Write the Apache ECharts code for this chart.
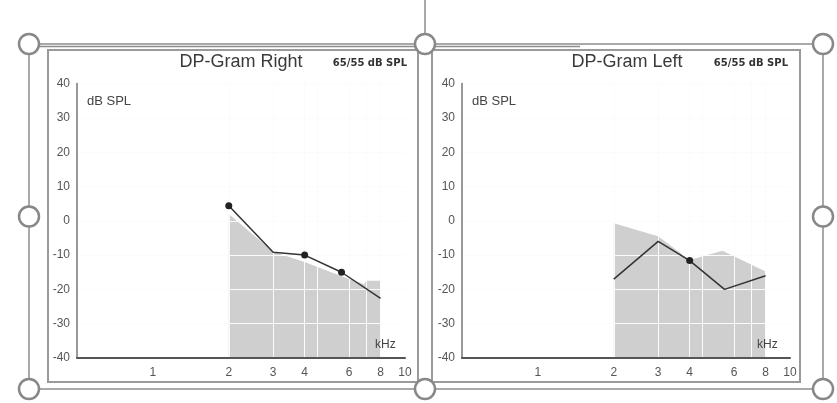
<!DOCTYPE html>
<html><head><meta charset="utf-8">
<script src="https://cdn.jsdelivr.net/npm/echarts@6/dist/echarts.min.js"></script>
<style>html,body{margin:0;padding:0;background:#fff}#c{width:837px;height:403px}</style>
</head><body><div id="c"></div><script>
// ---- data ----
const xTickValues = [1, 2, 3, 4, 6, 8, 10];
const xTickLabels = ['1', '2', '3', '4', '6', '8', '10'];
const gridFreqs = [2, 3, 4, 4.5, 6, 7, 8];
const yMin = -40, yMax = 40, yStep = 10;

const rightLineFreq = [2, 3, 4, 5.6, 8];
const rightLineDb = [4.4, -9.2, -10, -15, -22.6];
const rightMarked = [0, 2, 3];
const rightAreaFreq = [2, 3, 4, 5, 6, 6.9, 7, 8];
const rightAreaDb = [2, -9, -12, -14.8, -17, -18.5, -17.5, -17.5];

const leftLineFreq = [2, 3, 4, 5.5, 8];
const leftLineDb = [-17, -6, -11.6, -20, -16];
const leftMarked = [2];
const leftAreaFreq = [2, 3, 4, 5.4, 8];
const leftAreaDb = [-0.7, -4.5, -11.4, -8.7, -14.8];

const titles = ['DP-Gram Right', 'DP-Gram Left'];
const subTitle = '65/55 dB SPL';
const yUnit = 'dB SPL';
const xUnit = 'kHz';

// ---- build ----
const FONT = '"Liberation Sans", Arial, sans-serif';
const chart = echarts.init(document.getElementById('c'), null, {renderer: 'canvas'});
const lefts = [77, 462];

function zip(a, b) { return a.map((v, i) => [v, b[i]]); }
function lineData(f, d, marked) {
  return f.map((v, i) => marked.includes(i) ? {value: [v, d[i]]} : {value: [v, d[i]], symbol: 'none'});
}

const grids = lefts.map(l => ({left: l, top: 83.6, width: 328, height: 274.4}));
const xAxes = lefts.map((l, i) => ({
  type: 'log', logBase: 10, gridIndex: i, min: 0.5, max: 10, z: 6,
  axisLine: {show: true, onZero: false, lineStyle: {color: '#555', width: 2}},
  axisTick: {show: false, customValues: gridFreqs},
  axisLabel: {
    customValues: xTickValues, color: '#555', fontSize: 12, margin: 9, fontFamily: FONT,
    formatter: v => { const k = xTickValues.findIndex(t => Math.abs(t - v) < 1e-6); return k >= 0 ? xTickLabels[k] : ''; }
  },
  splitLine: {show: true, lineStyle: {color: '#fbfbfb', width: 1}},
  minorTick: {show: false}, minorSplitLine: {show: false}
}));
const yAxes = lefts.map((l, i) => ({
  type: 'value', gridIndex: i, min: yMin, max: yMax, interval: yStep, z: 5,
  axisLine: {show: true, lineStyle: {color: '#777', width: 1.5}},
  axisTick: {show: false},
  axisLabel: {color: '#555', fontSize: 12, margin: 7, fontFamily: FONT},
  splitLine: {show: true, lineStyle: {color: '#fbfbfb', width: 1}}
}));

const sets = [
  {af: rightAreaFreq, ad: rightAreaDb, lf: rightLineFreq, ld: rightLineDb, m: rightMarked},
  {af: leftAreaFreq, ad: leftAreaDb, lf: leftLineFreq, ld: leftLineDb, m: leftMarked}
];
const series = [];
sets.forEach((s, i) => {
  series.push({
    type: 'line', xAxisIndex: i, yAxisIndex: i, z: 2, silent: true,
    data: zip(s.af, s.ad), symbol: 'none',
    lineStyle: {width: 0}, areaStyle: {color: '#cfcfcf', opacity: 1, origin: 'start'}
  });
  series.push({
    type: 'line', xAxisIndex: i, yAxisIndex: i, z: 20,
    data: lineData(s.lf, s.ld, s.m), symbol: 'circle', symbolSize: 7,
    itemStyle: {color: '#222'}, lineStyle: {color: '#333', width: 1.5}
  });
});

// decorations
const els = [];
const stroke = '#8c8c8c';
els.push({type: 'rect', shape: {x: 48, y: 50, width: 370, height: 332}, style: {fill: null, stroke: '#9a9a9a', lineWidth: 2}, z: 50});
els.push({type: 'rect', shape: {x: 432, y: 50, width: 368, height: 332}, style: {fill: null, stroke: '#9a9a9a', lineWidth: 2}, z: 50});
const L = 29, R = 823, T = 44, B = 389, M = 425;
[[L, T, R, T], [L, B, R, B], [L, T, L, B], [R, T, R, B], [M, 0, M, 34], [L, 46.5, 580, 46.5]].forEach(p => {
  els.push({type: 'line', shape: {x1: p[0], y1: p[1], x2: p[2], y2: p[3]}, style: {stroke: stroke, lineWidth: 1.5}, z: 60});
});
[[L, T], [M, T], [R, T], [L, (T + B) / 2], [R, (T + B) / 2], [L, B], [M, B], [R, B]].forEach(p => {
  els.push({type: 'circle', shape: {cx: p[0], cy: p[1], r: 10}, style: {fill: '#fff', stroke: '#888', lineWidth: 2.5}, z: 70});
});
const titleX = [241, 627], subX = [407, 788], unitX = [87, 472], khzX = [375, 757];
titles.forEach((t, i) => {
  els.push({type: 'text', x: titleX[i], y: 62, z: 80, style: {text: t, align: 'center', verticalAlign: 'middle', fill: '#3a3a3a', font: '18px ' + FONT}});
  els.push({type: 'text', x: subX[i], y: 63, z: 80, style: {text: subTitle, align: 'right', verticalAlign: 'middle', fill: '#333', font: 'bold 10px "DejaVu Sans", sans-serif'}});
  els.push({type: 'text', x: unitX[i], y: 101, z: 80, style: {text: yUnit, align: 'left', verticalAlign: 'middle', fill: '#444', font: '13px ' + FONT}});
  els.push({type: 'text', x: khzX[i], y: 345, z: 80, style: {text: xUnit, align: 'left', verticalAlign: 'middle', fill: '#444', font: '12px ' + FONT}});
});

chart.setOption({
  animation: false,
  backgroundColor: '#fff',
  grid: grids, xAxis: xAxes, yAxis: yAxes, series: series,
  graphic: {elements: els}
});
</script></body></html>
